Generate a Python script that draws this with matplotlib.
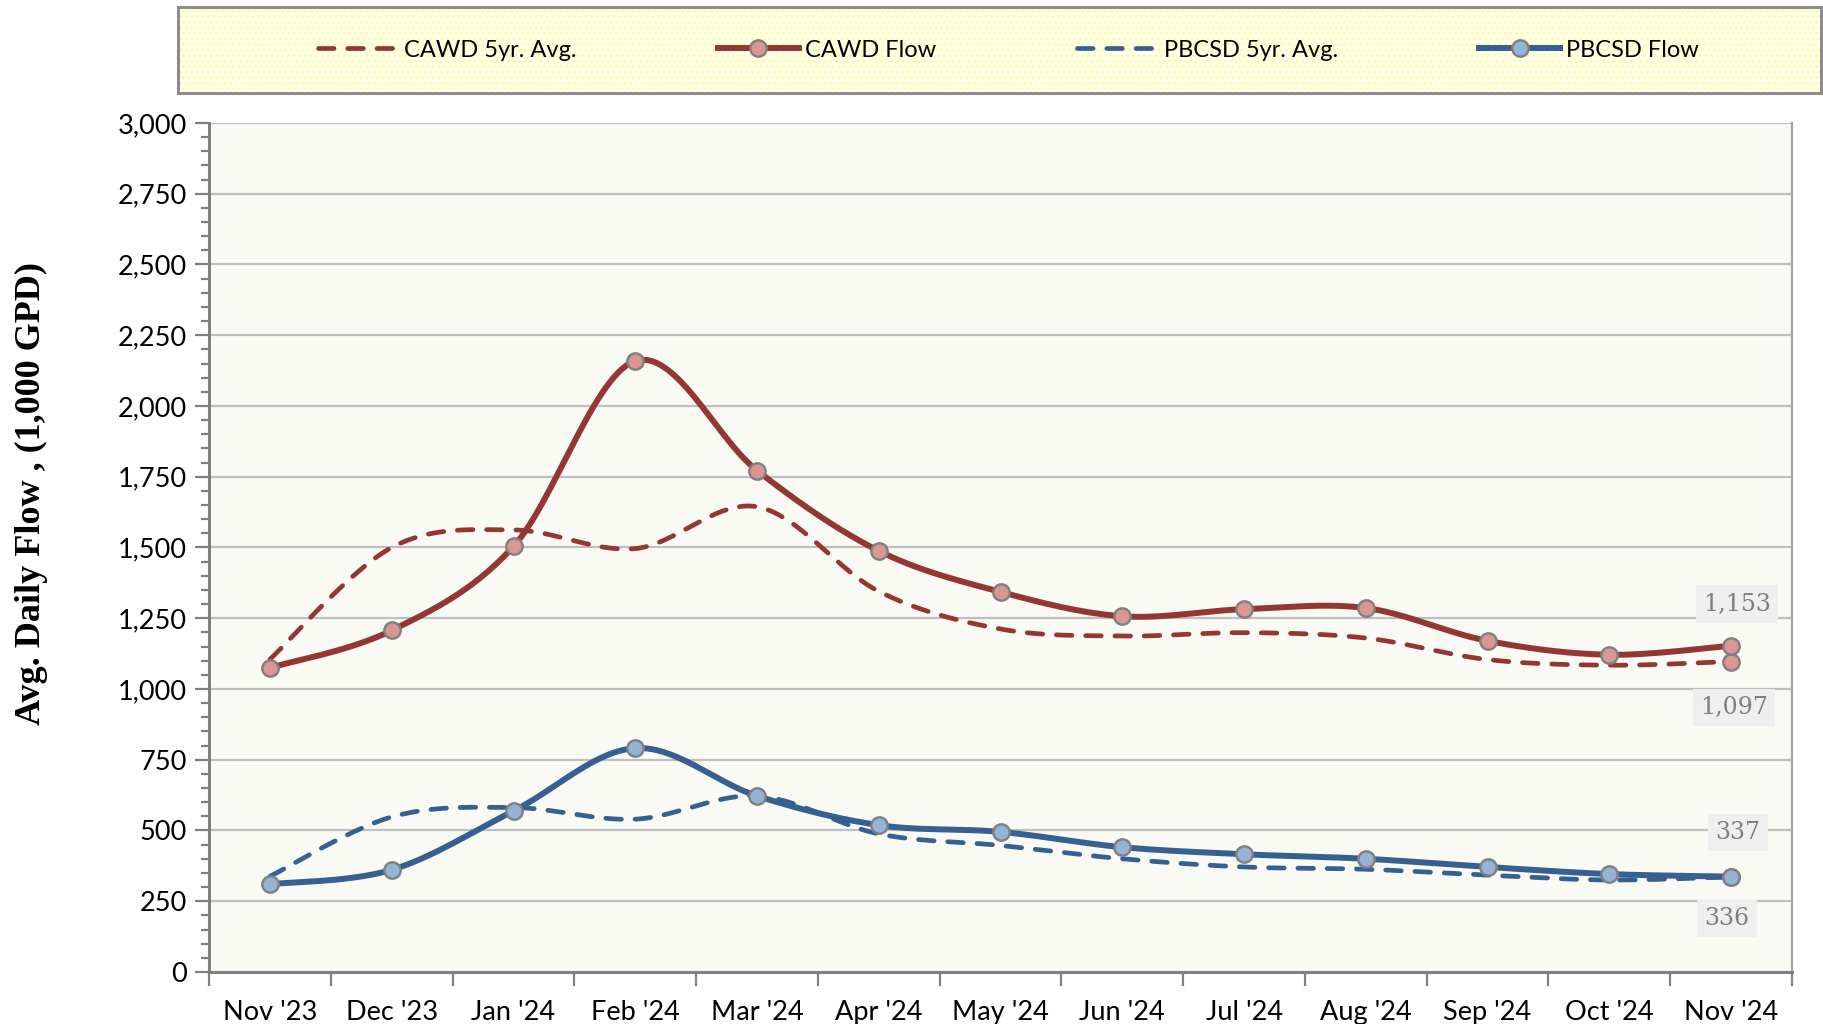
import numpy as np
import matplotlib.pyplot as plt
from matplotlib.lines import Line2D
from matplotlib.patches import Rectangle
from matplotlib.ticker import MultipleLocator, FuncFormatter, FixedLocator

months = ["Nov '23", "Dec '23", "Jan '24", "Feb '24", "Mar '24", "Apr '24", "May '24",
          "Jun '24", "Jul '24", "Aug '24", "Sep '24", "Oct '24", "Nov '24"]
cawd_avg = [1105, 1500, 1562, 1496, 1644, 1345, 1212, 1187, 1199, 1180, 1104, 1084, 1097]
cawd_flow = [1075, 1207, 1504, 2159, 1772, 1488, 1343, 1257, 1282, 1286, 1170, 1121, 1153]
pbcsd_avg = [338, 548, 581, 540, 622, 488, 447, 400, 371, 363, 342, 325, 336]
pbcsd_flow = [310, 361, 569, 791, 622, 519, 495, 441, 416, 400, 371, 346, 337]

RED = '#943634'
RED_FILL = '#D99694'
BLUE = '#366092'
BLUE_FILL = '#95B3D7'
EDGE = '#7F7F7F'


def smooth(y, n=30):
    # excel-ish smoothed line: catmull-rom segments as cubic beziers
    y = np.asarray(y, float)
    x = np.arange(len(y), dtype=float)
    P = np.column_stack([x, y])
    out = [P[0]]
    t = np.linspace(0, 1, n)[1:, None]
    for i in range(len(P) - 1):
        p0 = P[i - 1] if i > 0 else P[i]
        p1, p2 = P[i], P[i + 1]
        p3 = P[i + 2] if i + 2 < len(P) else P[i + 1]
        c1 = p1 + (p2 - p0) / 6
        c2 = p2 - (p3 - p1) / 6
        seg = ((1 - t) ** 3) * p1 + 3 * ((1 - t) ** 2) * t * c1 + 3 * (1 - t) * t ** 2 * c2 + t ** 3 * p2
        out.extend(seg)
    out = np.array(out)
    return out[:, 0], out[:, 1]


plt.rcParams['hatch.color'] = '#FFFF80'
plt.rcParams['hatch.linewidth'] = 1.2

fig = plt.figure(figsize=(18.23, 10.24), dpi=100)
ax = fig.add_axes([0.1147, 0.0508, 0.8683, 0.8291])
ax.set_facecolor('#F9FAF4')

lw_solid = 4.3
lw_dash = 3.4
dash = (3.3, 2.9)

x = np.arange(len(months))
for avg, flow, col, fill in [(cawd_avg, cawd_flow, RED, RED_FILL), (pbcsd_avg, pbcsd_flow, BLUE, BLUE_FILL)]:
    sx, sy = smooth(avg)
    ax.plot(sx, sy, color=col, lw=lw_dash, dashes=dash, dash_capstyle='round', zorder=3)
    ax.plot(x[-1], avg[-1], 'o', ms=11.8, mfc=fill, mec=EDGE, mew=1.7, zorder=5)
    sx, sy = smooth(flow)
    ax.plot(sx, sy, color=col, lw=lw_solid, solid_capstyle='round', zorder=4)
    ax.plot(x, flow, 'o', ms=11.8, mfc=fill, mec=EDGE, mew=1.7, zorder=5, ls='none')

# end labels
lab_kw = dict(ha='center', va='center', fontsize=17, color='#7F7F7F', family='DejaVu Serif',
              bbox=dict(boxstyle='square,pad=0.3', fc='#EFEFEF', ec='none'), zorder=6)
ax.annotate(f"{cawd_flow[-1]:,}", (x[-1], cawd_flow[-1]), xytext=(4, 30), textcoords='offset points', **lab_kw)
ax.annotate(f"{cawd_avg[-1]:,}", (x[-1], cawd_avg[-1]), xytext=(2, -33), textcoords='offset points', **lab_kw)
ax.annotate(f"{pbcsd_flow[-1]:,}", (x[-1], pbcsd_flow[-1]), xytext=(5, 32), textcoords='offset points', **lab_kw)
ax.annotate(f"{pbcsd_avg[-1]:,}", (x[-1], pbcsd_avg[-1]), xytext=(-3, -30), textcoords='offset points', **lab_kw)

ax.set_xlim(-0.5, len(months) - 0.5)
ax.set_ylim(0, 3000)
ax.yaxis.set_major_locator(MultipleLocator(250))
ax.yaxis.set_minor_locator(MultipleLocator(50))
ax.yaxis.set_major_formatter(FuncFormatter(lambda v, p: f"{int(v):,}"))
ax.grid(axis='y', which='major', color='#BFBFBF', lw=1.6, zorder=1)
ax.set_axisbelow(True)

ax.xaxis.set_major_locator(FixedLocator(np.arange(-0.5, len(months), 1.0)))
ax.xaxis.set_minor_locator(FixedLocator(x))
ax.set_xticklabels([], minor=False)
ax.set_xticklabels(months, minor=True)
ax.tick_params(axis='x', which='major', length=10, width=1.6, color='#808080')
ax.tick_params(axis='x', which='minor', length=0, pad=20, labelsize=19.5)
ax.tick_params(axis='y', which='major', length=10, width=1.6, color='#808080', labelsize=19.5, pad=6)
ax.tick_params(axis='y', which='minor', length=6, width=1.6, color='#808080')
for lbl in ax.get_xticklabels(minor=True) + ax.get_yticklabels():
    lbl.set_family('Lato')

for s in ['left', 'bottom']:
    ax.spines[s].set_color('#808080')
    ax.spines[s].set_linewidth(2.2)
ax.spines['right'].set_color('#A6A6A6')
ax.spines['right'].set_linewidth(1.6)
ax.spines['top'].set_visible(False)

fig.text(0.0175, 0.518, "Avg. Daily Flow , (1,000 GPD)", rotation=90, ha='center', va='center',
         fontsize=26, fontweight='bold', family='Liberation Serif')

# legend box: dotted yellow fill + grey border
fig.patches.append(Rectangle((0.0976, 0.909), 0.9014, 0.084, transform=fig.transFigure,
                             fc='#FFFFF2', ec='#FFFF80', lw=0, hatch='...', zorder=0))
fig.patches.append(Rectangle((0.0976, 0.909), 0.9014, 0.084, transform=fig.transFigure,
                             fc='none', ec='#8C8C8C', lw=2.2, zorder=0))
handles = [
    Line2D([], [], color=RED, lw=lw_dash, dashes=dash, dash_capstyle='round'),
    Line2D([], [], color=RED, lw=lw_solid, marker='o', ms=11.8, mfc=RED_FILL, mec=EDGE, mew=1.7),
    Line2D([], [], color=BLUE, lw=lw_dash, dashes=dash, dash_capstyle='round'),
    Line2D([], [], color=BLUE, lw=lw_solid, marker='o', ms=11.8, mfc=BLUE_FILL, mec=EDGE, mew=1.7),
]
names = ["CAWD 5yr. Avg.", "CAWD Flow", "PBCSD 5yr. Avg.", "PBCSD Flow"]
fig.legend(handles, names, loc='center', bbox_to_anchor=(0.553, 0.951), ncol=4, frameon=False,
           handlelength=3.4, handletextpad=0.25, columnspacing=6.0,
           prop={'family': 'Lato', 'size': 17})

fig.savefig('out.png', dpi=100)
